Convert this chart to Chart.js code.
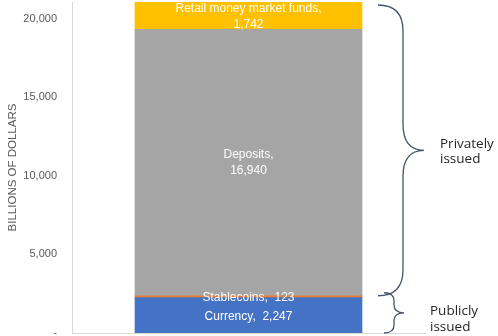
<html>
<head>
<style>
  body { margin: 0; background: #fff; }
</style>
</head>
<body>
<canvas id="myChart" width="498" height="336"></canvas>
<script src="https://cdn.jsdelivr.net/npm/chart.js@4.4.1/dist/chart.umd.min.js"></script>
<script>
// data
const categories = ['Currency', 'Stablecoins', 'Deposits', 'Retail money market funds'];
const values = [2247, 123, 16940, 1742];
const colors = ['#4472C4', '#ED7D31', '#A5A5A5', '#FFC000'];
const twoLine = [false, false, true, true];   // label on two lines?
const yTicks = [0, 5000, 10000, 15000, 20000];
const groups = [
  { text: ['Privately', 'issued'], from: 2, to: 3 },   // category index range
  { text: ['Publicly', 'issued'], from: 0, to: 1 }
];

const total = values.reduce((a, b) => a + b, 0);
const fmt = v => v.toLocaleString('en-US');

const datasets = categories.map((c, i) => ({
  label: c,
  data: [values[i]],
  backgroundColor: colors[i],
  borderWidth: 0,
  barThickness: 227,
  stack: 's'
}));

// white labels in the middle of every segment
const segLabels = {
  id: 'segLabels',
  afterDatasetsDraw(chart) {
    const ctx = chart.ctx;
    ctx.save();
    ctx.fillStyle = '#ffffff';
    ctx.font = '12px "Liberation Sans", Arial, sans-serif';
    ctx.textAlign = 'center';
    ctx.textBaseline = 'middle';
    chart.data.datasets.forEach((ds, i) => {
      const el = chart.getDatasetMeta(i).data[0];
      const p = el.getProps(['x', 'y', 'base'], true);
      const top = Math.max(p.y, chart.chartArea.top);
      const cy = (top + p.base) / 2 + (i === 3 ? 1 : 0);
      if (twoLine[i]) {
        ctx.fillText(categories[i] + ',', p.x, cy - 8);
        ctx.fillText(fmt(values[i]), p.x, cy + 8);
      } else {
        ctx.fillText(categories[i] + ',  ' + fmt(values[i]), p.x, cy + 1);
      }
    });
    ctx.restore();
  }
};

// curly braces on the right
function brace(ctx, x0, x1, x2, y1, y2, r) {
  const ym = (y1 + y2) / 2;
  ctx.beginPath();
  ctx.moveTo(x0, y1);
  ctx.quadraticCurveTo(x1, y1, x1, y1 + r);
  ctx.lineTo(x1, ym - r);
  ctx.quadraticCurveTo(x1, ym, x2, ym);
  ctx.quadraticCurveTo(x1, ym, x1, ym + r);
  ctx.lineTo(x1, y2 - r);
  ctx.quadraticCurveTo(x1, y2, x0, y2);
  ctx.stroke();
}

const braces = {
  id: 'braces',
  afterDraw(chart) {
    const ctx = chart.ctx;
    const y = chart.scales.y;
    const cum = [0];
    values.forEach(v => cum.push(cum[cum.length - 1] + v));
    ctx.save();
    ctx.strokeStyle = '#44546A';
    ctx.lineWidth = 1.3;
    ctx.fillStyle = '#262626';
    ctx.font = '13.5px "Open Sans", sans-serif';
    ctx.textAlign = 'left';
    ctx.textBaseline = 'middle';
    groups.forEach((g, k) => {
      const y1 = Math.max(y.getPixelForValue(cum[g.to + 1]), chart.chartArea.top + 3);
      const y2 = y.getPixelForValue(cum[g.from]);
      const ym = (y1 + y2) / 2;
      if (k === 0) {
        brace(ctx, 378, 403, 424, y1, y2, 26);
        ctx.fillText(g.text[0], 440, ym - 6);
        ctx.fillText(g.text[1], 440, ym + 9);
      } else {
        brace(ctx, 384, 394, 404, y1 - 3, y2, 8);
        ctx.fillText(g.text[0], 430, ym - 3);
        ctx.fillText(g.text[1], 430, ym + 13);
      }
    });
    ctx.restore();
  }
};

const config = {
  type: 'bar',
  data: { labels: [''], datasets },
  options: {
    responsive: false,
    animation: false,
    layout: { padding: { top: 2, right: 73, left: 0, bottom: 0 } },
    plugins: { legend: { display: false }, tooltip: { enabled: false } },
    scales: {
      x: {
        stacked: true,
        grid: { display: false },
        ticks: { display: false },
        border: { color: '#D9D9D9' },
        afterFit: s => { s.height = 3; s.paddingLeft = 0; s.paddingRight = 0; }
      },
      y: {
        stacked: true,
        min: 0,
        max: total,
        grid: { display: false, drawTicks: false },
        border: { color: '#D9D9D9' },
        afterBuildTicks: s => { s.ticks = yTicks.map(v => ({ value: v })); },
        afterFit: s => { s.width = 72; s.paddingTop = 0; s.paddingBottom = 0; },
        ticks: {
          padding: 15,
          color: '#595959',
          font: { family: '"Liberation Sans", Arial, sans-serif', size: 11 },
          callback: v => v === 0 ? '-' : fmt(v)
        },
        title: {
          display: true,
          text: 'BILLIONS OF DOLLARS',
          color: '#595959',
          padding: { top: 6, bottom: 0 },
          font: { family: '"Liberation Sans", Arial, sans-serif', size: 11.5 }
        }
      }
    }
  },
  plugins: [segLabels, braces]
};

new Chart(document.getElementById('myChart').getContext('2d'), config);
</script>
</body>
</html>
